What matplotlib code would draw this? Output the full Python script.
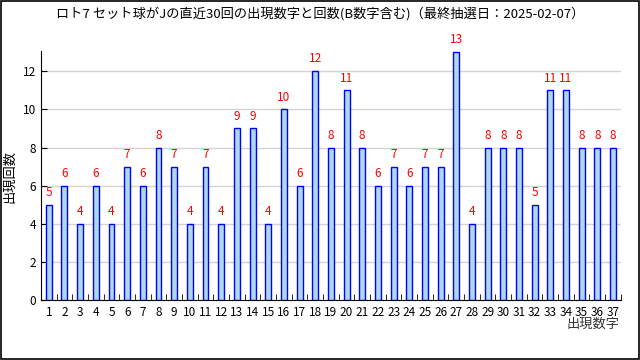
import numpy as np
import matplotlib
matplotlib.use('Agg')
import matplotlib.pyplot as plt
from matplotlib.patches import Rectangle

plt.rcParams['font.family'] = ['Noto Sans CJK JP', 'DejaVu Sans']

numbers = list(range(1, 38))
counts = [5, 6, 4, 6, 4, 7, 6, 8, 7, 4, 7, 4, 9, 9, 4, 10, 6, 12, 8, 11,
          8, 6, 7, 6, 7, 7, 13, 4, 8, 8, 8, 5, 11, 11, 8, 8, 8]
title = 'ロト7 セット球がJの直近30回の出現数字と回数(B数字含む)（最終抽選日：2025-02-07）'

fig = plt.figure(figsize=(6.4, 3.6), dpi=100)
ax = fig.add_axes([0.064, 0.166, 0.906, 0.692])

x = np.array(numbers)
ax.bar(x, counts, width=0.38, color='#add8e6', edgecolor='#0000ff', linewidth=1, zorder=3)
for xi, c in zip(x, counts):
    ax.text(xi, c + 0.3, str(c), color='#ff0000', fontsize=8.5, ha='center', va='bottom')

ax.set_xlim(0.5, 37.5)
ax.set_ylim(0, 13.05)
ax.set_xticks(x)
ax.set_xticklabels([str(n) for n in numbers], fontsize=8.5)
ax.set_xticks(np.arange(1.5, 38, 1), minor=True)
ax.tick_params(axis='x', which='major', length=0, pad=4)
ax.tick_params(axis='x', which='minor', direction='in', length=4)
ax.set_yticks(range(0, 13, 2))
ax.tick_params(axis='y', direction='in', length=4, labelsize=8.5)
ax.yaxis.grid(True, color='#d3d3d3', linewidth=1, zorder=0)
ax.spines['top'].set_visible(False)
ax.spines['right'].set_visible(False)

fig.text(10 / 640, 0.51, '出現回数', fontsize=9.5, rotation=90, ha='center', va='center')
fig.text(0.968, 0.1, '出現数字', fontsize=9.5, ha='right', va='center', color='#333333')
fig.text(0.5, 0.963, title, fontsize=9.5, ha='center', va='center')

fig.patches.append(Rectangle((0.001, 0.002), 0.997, 0.996, transform=fig.transFigure,
                             fill=False, edgecolor='black', linewidth=1.2))

fig.savefig('out.png', dpi=100)
